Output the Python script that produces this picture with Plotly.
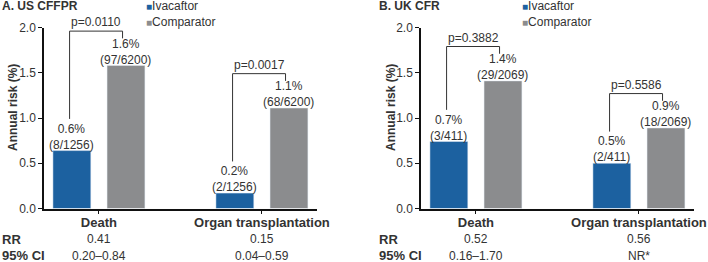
import plotly.graph_objects as go

# ---- data ----
categories = ["Death", "Organ transplantation"]
series_names = ["Ivacaftor", "Comparator"]

us_ivacaftor = [0.64, 0.17]
us_comparator = [1.58, 1.11]
us_iva_pct = ["0.6", "0.2"]
us_iva_counts = ["8/1256", "2/1256"]
us_comp_pct = ["1.6", "1.1"]
us_comp_counts = ["97/6200", "68/6200"]
us_pvalues = ["p=0.0110", "p=0.0017"]
us_rr = ["0.41", "0.15"]
us_ci = ["0.20–0.84", "0.04–0.59"]

uk_ivacaftor = [0.74, 0.50]
uk_comparator = [1.41, 0.89]
uk_iva_pct = ["0.7", "0.5"]
uk_iva_counts = ["3/411", "2/411"]
uk_comp_pct = ["1.4", "0.9"]
uk_comp_counts = ["29/2069", "18/2069"]
uk_pvalues = ["p=0.3882", "p=0.5586"]
uk_rr = ["0.52", "0.56"]
uk_ci = ["0.16–1.70", "NR*"]

panel_titles = ["A. US CFFPR", "B. UK CFR"]
y_title = "Annual risk (%)"
y_ticks = [0.0, 0.5, 1.0, 1.5, 2.0]

# ---- style ----
W, H = 708, 262
BLUE = "#1c61a0"
GRAY = "#8b8c8e"
TXT = "#333333"
FONT = "Liberation Sans, Arial, Helvetica, sans-serif"
BARGAP, BARGROUPGAP = 0.336, 0.30
HALF = (1 - BARGAP) / 4  # offset of each grouped bar centre from category centre

def px_x(p):
    return p / W

def px_y(p):
    return (H - p) / H

ydom = [px_y(208.5), px_y(27.5)]
xdomA = [px_x(44), px_x(317)]
xdomB = [px_x(421), px_x(694)]
xrange = [-0.337, 1.338]

fig = go.Figure()

panels = [
    dict(xa="x", ya="y", iva=us_ivacaftor, comp=us_comparator, ip=us_iva_pct, ic=us_iva_counts,
         cp=us_comp_pct, cc=us_comp_counts, pv=us_pvalues, rr=us_rr, ci=us_ci),
    dict(xa="x2", ya="y2", iva=uk_ivacaftor, comp=uk_comparator, ip=uk_iva_pct, ic=uk_iva_counts,
         cp=uk_comp_pct, cc=uk_comp_counts, pv=uk_pvalues, rr=uk_rr, ci=uk_ci),
]

xidx = list(range(len(categories)))
for p in panels:
    fig.add_trace(go.Bar(x=xidx, y=p["iva"], name=series_names[0], marker_color=BLUE,
                         xaxis=p["xa"], yaxis=p["ya"], showlegend=False))
    fig.add_trace(go.Bar(x=xidx, y=p["comp"], name=series_names[1], marker_color=GRAY,
                         xaxis=p["xa"], yaxis=p["ya"], showlegend=False))

shapes = []
annotations = []
lblfont = dict(size=12, color=TXT, family=FONT)
for p in panels:
    for i in xidx:
        # value labels above bars
        for sgn, vals, pct, cnt in [(-1, p["iva"], p["ip"], p["ic"]), (1, p["comp"], p["cp"], p["cc"])]:
            annotations.append(dict(x=i + sgn * HALF, y=vals[i], xref=p["xa"], yref=p["ya"],
                                    text=f"{pct[i]}%<br>({cnt[i]})", showarrow=False,
                                    yanchor="bottom", yshift=-3, font=lblfont))
        # significance bracket
        xl, xr = i - 0.18, i + 0.145
        ytop = p["comp"][i] + 0.38
        yr = p["comp"][i] + 0.30
        yl = p["iva"][i] + 0.35
        shapes.append(dict(type="path", xref=p["xa"], yref=p["ya"],
                           path=f"M {xl},{yl} L {xl},{ytop} L {xr},{ytop} L {xr},{yr}",
                           line=dict(color="#333333", width=1)))
        annotations.append(dict(x=(xl + xr) / 2, y=ytop, xref=p["xa"], yref=p["ya"],
                                text=p["pv"][i], showarrow=False, yanchor="bottom",
                                font=lblfont))
        annotations.append(dict(x=i, y=px_y(239), xref=p["xa"], yref="paper",
                                text=p["rr"][i], showarrow=False, yanchor="middle",
                                font=lblfont))
        annotations.append(dict(x=i, y=px_y(255.5), xref=p["xa"], yref="paper",
                                text=p["ci"][i], showarrow=False, yanchor="middle",
                                font=lblfont))

# row labels, panel titles, y titles, legends
for left, title, ytx, legx in [(0, panel_titles[0], 13, 144), (377, panel_titles[1], 391, 520)]:
    annotations.append(dict(x=px_x(left), y=px_y(239), xref="paper", yref="paper", text="<b>RR</b>",
                            showarrow=False, xanchor="left", yanchor="middle",
                            font=dict(size=13, color=TXT, family=FONT)))
    annotations.append(dict(x=px_x(left), y=px_y(255.5), xref="paper", yref="paper", text="<b>95% CI</b>",
                            showarrow=False, xanchor="left", yanchor="middle",
                            font=dict(size=13, color=TXT, family=FONT)))
    annotations.append(dict(x=px_x(left), y=px_y(6), xref="paper", yref="paper", text=f"<b>{title}</b>",
                            showarrow=False, xanchor="left", yanchor="middle",
                            font=dict(size=12, color=TXT, family=FONT)))
    annotations.append(dict(x=px_x(ytx), y=px_y(108), xref="paper", yref="paper", text=f"<b>{y_title}</b>",
                            showarrow=False, textangle=-90, xanchor="center", yanchor="middle",
                            font=dict(size=12, color=TXT, family=FONT)))
    for k, (nm, col) in enumerate(zip(series_names, [BLUE, GRAY])):
        annotations.append(dict(x=px_x(legx), y=px_y(6 + 16 * k), xref="paper", yref="paper",
                                text=f"<span style='color:{col};font-size:10px'>■</span>{nm}",
                                showarrow=False, xanchor="left", yanchor="middle",
                                font=dict(size=12, color=TXT, family=FONT)))

axis_common = dict(showline=True, linecolor="#111111", linewidth=1.5, ticks="outside",
                   ticklen=4, tickcolor="#111111", tickwidth=1.2, showgrid=False, zeroline=False,
                   automargin=False)
xaxis_common = dict(axis_common, range=xrange, tickvals=xidx,
                    ticktext=[f"<b>{c}</b>" for c in categories],
                    ticklabelstandoff=-3,
                    tickfont=dict(size=13, color=TXT, family=FONT))
yaxis_common = dict(axis_common, range=[0, 2], tickvals=y_ticks,
                    ticktext=[f"{v:.1f}" for v in y_ticks],
                    tickfont=dict(size=12, color=TXT, family=FONT), domain=ydom)

fig.update_layout(
    width=W, height=H, margin=dict(l=0, r=0, t=0, b=0, pad=0),
    paper_bgcolor="white", plot_bgcolor="white",
    barmode="group", bargap=BARGAP, bargroupgap=BARGROUPGAP,
    font=dict(family=FONT, color=TXT),
    xaxis=dict(xaxis_common, domain=xdomA, anchor="y"),
    yaxis=dict(yaxis_common, anchor="x"),
    xaxis2=dict(xaxis_common, domain=xdomB, anchor="y2"),
    yaxis2=dict(yaxis_common, anchor="x2"),
    shapes=shapes, annotations=annotations, showlegend=False,
)

fig.write_html("out.html", config={"displayModeBar": False},
               post_script="document.body.style.margin='0px';")
